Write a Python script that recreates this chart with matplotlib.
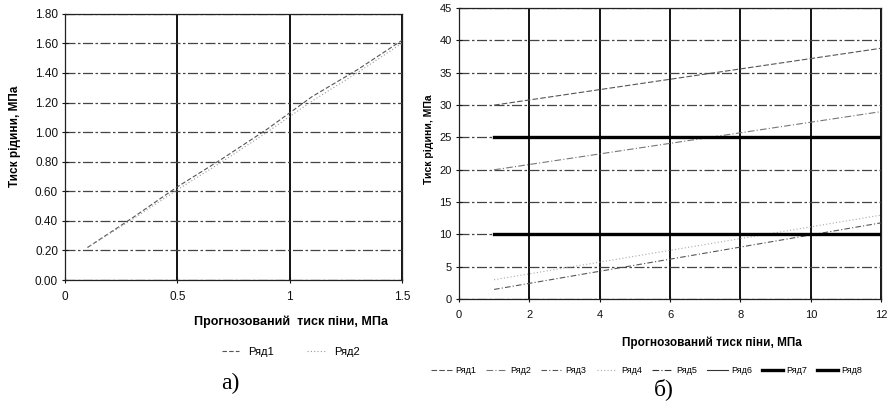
import matplotlib.pyplot as plt
import numpy as np

plt.rcParams['font.family'] = ['Liberation Sans', 'DejaVu Sans']

# ── Data: chart a) ─────────────────────────────────────────────────────────
foam_a = [0.1, 0.3, 0.5, 0.7, 0.9, 1.1, 1.3, 1.5]
row1_a = [0.22, 0.42, 0.63, 0.82, 1.02, 1.24, 1.42, 1.62]
row2_a = [0.22, 0.41, 0.61, 0.80, 1.00, 1.21, 1.40, 1.60]
yticks_a = [0.0, 0.2, 0.4, 0.6, 0.8, 1.0, 1.2, 1.4, 1.6, 1.8]
xticks_a = [0, 0.5, 1, 1.5]
xlabels_a = ["0", "0.5", "1", "1.5"]

# ── Data: chart б) ─────────────────────────────────────────────────────────
foam_b = [1, 12]
row1_b = [30.0, 38.8]
row2_b = [20.0, 29.0]
row3_b = [1.5, 11.8]
row4_b = [3.0, 13.0]
row5_b = [25.0, 25.0]
row6_b = [10.0, 10.0]
row7_b = [25.0, 25.0]
row8_b = [10.0, 10.0]
xticks_b = [0, 2, 4, 6, 8, 10, 12]
yticks_b = [0, 5, 10, 15, 20, 25, 30, 35, 40, 45]

names = ["Ряд1", "Ряд2", "Ряд3", "Ряд4", "Ряд5", "Ряд6", "Ряд7", "Ряд8"]

fig = plt.figure(figsize=(8.91, 4.07), dpi=100)


def style_axes(ax, size):
    ax.grid(axis="y", color="#444444", linewidth=0.9, linestyle=(0, (8, 2, 2, 2)))
    ax.grid(axis="x", color="black", linewidth=1.3)
    for s in ax.spines.values():
        s.set_color("#222222")
        s.set_linewidth(0.9)
    ax.tick_params(direction="inout", length=4, width=0.8, labelsize=size,
                   colors="#111111", pad=3)
    ax.set_axisbelow(True)


# ── a) ─────────────────────────────────────────────────────────────────────
ax1 = fig.add_axes([0.073, 0.312, 0.378, 0.654])
ax1.plot(foam_a, row1_a, color="#555555", lw=0.8, ls=(0, (4, 2)), label=names[0])
ax1.plot(foam_a, row2_a, color="#999999", lw=0.8, ls=(0, (1, 2)), label=names[1])
ax1.set_xlim(0, 1.5)
ax1.set_ylim(0, 1.8)
ax1.set_xticks(xticks_a)
ax1.set_xticklabels(xlabels_a)
ax1.set_yticks(yticks_a)
ax1.set_yticklabels([f"{v:.2f}" for v in yticks_a])
style_axes(ax1, 8.5)
ax1.tick_params(axis="x", pad=6)
ax1.set_xlabel("Прогнозований  тиск піни, МПа", fontsize=9, fontweight="bold")
ax1.xaxis.set_label_coords(0.67, -0.135)
ax1.set_ylabel("Тиск рідини, МПа", fontsize=8.5, fontweight="bold")
ax1.yaxis.set_label_coords(-0.13, 0.54)
ax1.legend(loc="center", bbox_to_anchor=(0.67, -0.27), ncol=2, frameon=False,
           fontsize=8, handlelength=1.6, columnspacing=3.0)
fig.text(0.258, 0.045, "а)", fontsize=17, family="Liberation Serif", ha="center")

# ── б) ─────────────────────────────────────────────────────────────────────
ax2 = fig.add_axes([0.515, 0.265, 0.474, 0.715])
ax2.plot(foam_b, row1_b, color="#555555", lw=0.8, ls=(0, (5, 2)), label=names[0])
ax2.plot(foam_b, row2_b, color="#777777", lw=0.8, ls=(0, (6, 2, 1, 2)), label=names[1])
ax2.plot(foam_b, row3_b, color="#555555", lw=0.8, ls=(0, (5, 2, 1, 2)), label=names[2])
ax2.plot(foam_b, row4_b, color="#aaaaaa", lw=0.8, ls=(0, (1, 2)), label=names[3])
ax2.plot(foam_b, row5_b, color="#333333", lw=0.8, ls=(0, (6, 2, 1, 2)), label=names[4])
ax2.plot(foam_b, row6_b, color="#333333", lw=0.8, label=names[5])
ax2.plot(foam_b, row7_b, color="black", lw=2.4, label=names[6])
ax2.plot(foam_b, row8_b, color="black", lw=2.4, label=names[7])
ax2.set_xlim(0, 12)
ax2.set_ylim(0, 45)
ax2.set_xticks(xticks_b)
ax2.set_yticks(yticks_b)
style_axes(ax2, 8)
ax2.tick_params(axis="x", pad=6)
ax2.set_xlabel("Прогнозований тиск піни, МПа", fontsize=8.5, fontweight="bold")
ax2.xaxis.set_label_coords(0.60, -0.13)
ax2.set_ylabel("Тиск рідини, МПа", fontsize=7.5, fontweight="bold")
ax2.yaxis.set_label_coords(-0.06, 0.55)
ax2.legend(loc="center", bbox_to_anchor=(0.445, -0.245), ncol=8, frameon=False,
           fontsize=6.5, handlelength=2.3, columnspacing=1.1, handletextpad=0.4)
fig.text(0.745, 0.03, "б)", fontsize=17, family="Liberation Serif", ha="center")

fig.savefig("out.png", dpi=100, facecolor="white")
